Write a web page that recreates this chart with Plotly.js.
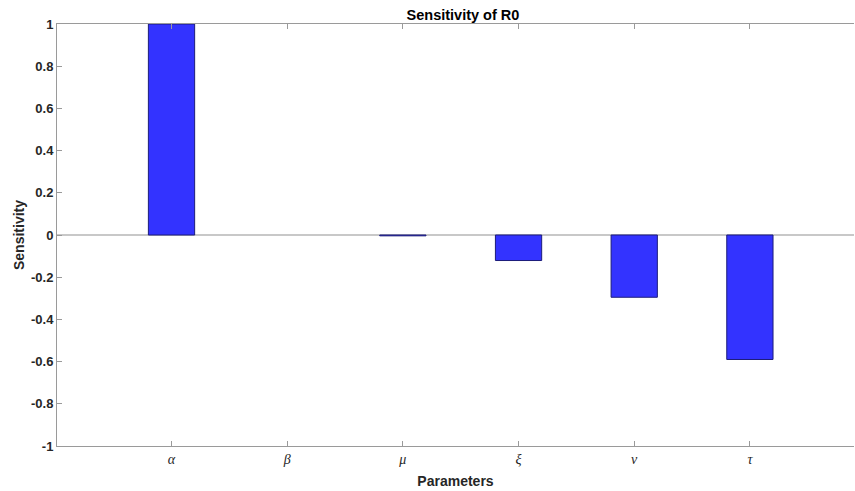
<!DOCTYPE html>
<html>
<head>
<meta charset="utf-8">
<script src="https://cdn.plot.ly/plotly-3.0.1.min.js"></script>
<style>html,body{margin:0;padding:0;background:#fff;}#chart{width:855px;height:491px;}</style>
</head>
<body>
<div id="chart"></div>
<script>
const parameters = ["α", "β", "μ", "ξ", "ν", "τ"];
const sensitivity = [1.0, 0.0, -0.004, -0.121, -0.295, -0.59];
const yTicks = [-1, -0.8, -0.6, -0.4, -0.2, 0, 0.2, 0.4, 0.6, 0.8, 1];
const yTickText = ["-1", "-0.8", "-0.6", "-0.4", "-0.2", "0", "0.2", "0.4", "0.6", "0.8", "1"];

const trace = {
  type: "bar",
  x: parameters,
  y: sensitivity,
  width: 0.4,
  marker: {
    color: "#3333ff",
    line: {color: "#1c1c7a", width: sensitivity.map(v => v === 0 ? 0 : 1)}
  },
  hoverinfo: "x+y"
};

const axisColor = "#9a9a9a";
const layout = {
  width: 855, height: 491,
  margin: {l: 57, r: 1, t: 24, b: 45},
  paper_bgcolor: "#fff", plot_bgcolor: "#fff",
  showlegend: false,
  font: {family: "Liberation Sans, Arial, sans-serif", color: "#262626"},
  title: {text: "<b>Sensitivity of R0</b>", x: 0.5415, xanchor: "center", y: 0.979, yanchor: "top",
          font: {size: 14.5, color: "#000"}},
  xaxis: {
    type: "category",
    categoryorder: "array", categoryarray: parameters,
    range: [-0.99, 5.9],
    tickvals: parameters,
    ticktext: parameters.map(p => "<i>" + p + "</i>"),
    tickfont: {family: "Liberation Serif, Times New Roman, serif", size: 14, color: "#262626"},
    ticks: "inside", ticklen: 5, tickcolor: axisColor,
    showline: true, linecolor: axisColor, linewidth: 1, mirror: "ticks",
    showgrid: false, zeroline: false,
    title: {text: "<b>Parameters</b>", font: {size: 14, color: "#262626"}, standoff: 10}
  },
  yaxis: {
    range: [-1, 1],
    tickvals: yTicks, ticktext: yTickText.map(t => "<b>" + t + "</b>"),
    tickfont: {size: 13, color: "#262626"},
    ticks: "inside", ticklen: 5, tickcolor: axisColor,
    showline: true, linecolor: axisColor, linewidth: 1,
    showgrid: false,
    zeroline: true, zerolinecolor: "#c8c8c8", zerolinewidth: 1.5,
    title: {text: "<b>Sensitivity</b>", font: {size: 14, color: "#262626"}, standoff: 3}
  }
};

Plotly.newPlot("chart", [trace], layout, {displayModeBar: false, staticPlot: true});
</script>
</body>
</html>
